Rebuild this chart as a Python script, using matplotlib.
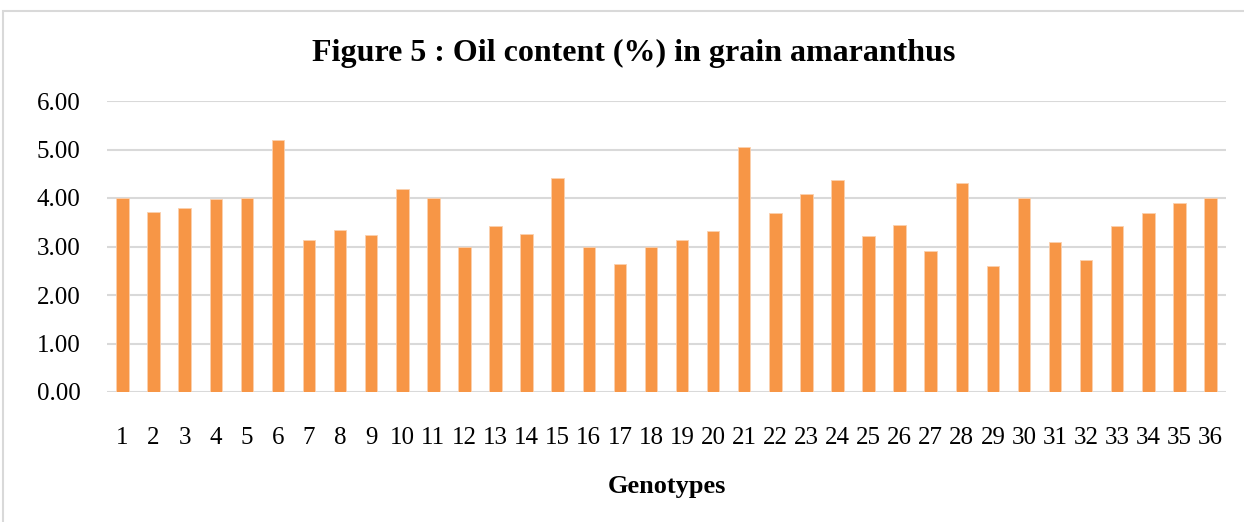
import matplotlib
matplotlib.use("Agg")
import matplotlib.pyplot as plt
from matplotlib.patches import Rectangle

# oil content (%)
genotypes = [str(i) for i in range(1, 37)]
oil_content = [4.00, 3.71, 3.79, 3.97, 4.01, 5.19, 3.13, 3.35, 3.23, 4.19,
               3.99, 2.99, 3.42, 3.25, 4.41, 2.98, 2.64, 3.00, 3.13, 3.31,
               5.06, 3.70, 4.09, 4.37, 3.21, 3.44, 2.90, 4.30, 2.59, 3.99,
               3.09, 2.73, 3.42, 3.70, 3.89, 4.00]
y_ticks = [0, 1, 2, 3, 4, 5, 6]

plt.rcParams['font.family'] = ['Liberation Serif', 'DejaVu Serif']

fig = plt.figure(figsize=(12.44, 5.22), dpi=100)
ax = fig.add_axes([107 / 1244, 1 - 392 / 522, (1226 - 107) / 1244, (392 - 101) / 522])

# chart border like the excel chart area
fig.patches.append(Rectangle((3 / 1244, -0.01), 1.02, 1 - 11 / 522 + 0.01,
                             transform=fig.transFigure, fill=False,
                             edgecolor='#d9d9d9', linewidth=1.5))

x = list(range(1, len(genotypes) + 1))
ax.bar(x, oil_content, width=0.4, color='#F79646', edgecolor='#FBD0AE',
       linewidth=0.6, zorder=3)

ax.set_xlim(0.5, len(genotypes) + 0.5)
ax.set_ylim(0, 6)
ax.set_yticks(y_ticks)
ax.set_yticklabels(["{:.2f}".format(v) for v in y_ticks])
ax.set_xticks(x)
ax.set_xticklabels(genotypes)
ax.grid(axis='y', color='#d9d9d9', linewidth=1.5, zorder=0)
ax.tick_params(axis='both', length=0, labelsize=18)
ax.tick_params(axis='x', pad=25)
ax.tick_params(axis='y', pad=19)
for side in ['top', 'right', 'left', 'bottom']:
    ax.spines[side].set_visible(False)

ax.set_xlabel("Genotypes", fontsize=19, fontweight='bold', labelpad=19)
fig.text(634 / 1244, 1 - 53 / 522, "Figure 5 : Oil content (%) in grain amaranthus",
         ha='center', va='center', fontsize=23, fontweight='bold')

fig.savefig("out.png", dpi=100)
